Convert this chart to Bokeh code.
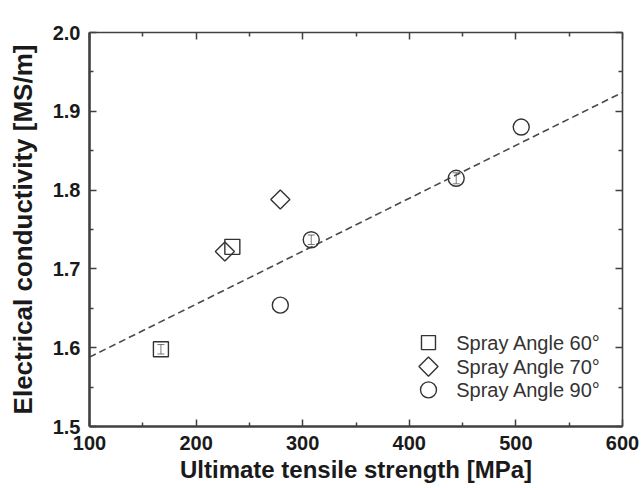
import numpy as np
from bokeh.plotting import figure
from bokeh.models import (Range1d, LinearAxis, FixedTicker, PrintfTickFormatter,
                          CustomJSTickFormatter, ColumnDataSource, Whisker, TeeHead)
from bokeh.core.properties import value
from bokeh.embed import file_html
from bokeh.resources import INLINE

# ---- data ----
sq_x = [167, 234]
sq_y = [1.598, 1.728]
sq_err = [0.006, 0.0]

dm_x = [227, 279]
dm_y = [1.722, 1.788]

ci_x = [279, 308, 444, 505]
ci_y = [1.654, 1.737, 1.815, 1.880]
ci_err = [0.0, 0.006, 0.007, 0.0]

fit_x = [100, 600]
fit_y = [1.588, 1.924]

x_ticks = [100, 200, 300, 400, 500, 600]
x_minor = [150, 250, 350, 450, 550]
y_ticks = [1.5, 1.6, 1.7, 1.8, 1.9, 2.0]
y_minor = [1.55, 1.65, 1.75, 1.85, 1.95]

labels = ["Spray Angle 60°", "Spray Angle 70°", "Spray Angle 90°"]

# ---- legend layout (fractions of the plot frame) ----
LEG_SYM_X = 0.636
LEG_TXT_X = 0.688
LEG_ROWS = [0.213, 0.152, 0.093]

FONT = "Liberation Sans"
INK = "#333333"
AX = "#404040"

p = figure(width=641, height=488, output_backend="svg", toolbar_location=None,
           x_range=Range1d(100, 600), y_range=Range1d(1.5, 2.0),
           x_axis_location=None, y_axis_location=None,
           min_border_left=89, min_border_right=19, min_border_top=32, min_border_bottom=62)
p.outline_line_color = None
p.grid.visible = False
p.background_fill_color = "white"
p.border_fill_color = "white"
p.extra_x_ranges = {"lx": Range1d(0, 1)}
p.extra_y_ranges = {"ly": Range1d(0, 1)}

def style_axis(ax, lw):
    ax.axis_line_color = AX
    ax.axis_line_width = lw
    ax.major_tick_line_color = AX
    ax.minor_tick_line_color = AX
    ax.major_tick_line_width = 1.5
    ax.minor_tick_line_width = 1.5
    ax.major_tick_in = 7
    ax.major_tick_out = 0
    ax.minor_tick_in = 4
    ax.minor_tick_out = 0
    ax.major_label_text_font = FONT
    ax.major_label_text_font_style = "bold"
    ax.major_label_text_font_size = "20px"
    ax.major_label_text_color = "#1a1a1a"
    ax.axis_label_text_font = FONT
    ax.axis_label_text_font_style = "bold"
    ax.axis_label_text_color = "#1a1a1a"

xt = FixedTicker(ticks=x_ticks, minor_ticks=x_minor)
yt = FixedTicker(ticks=y_ticks, minor_ticks=y_minor)
blank = CustomJSTickFormatter(code="return ''")

xb = LinearAxis(ticker=xt, formatter=PrintfTickFormatter(format="%d"),
                axis_label="Ultimate tensile strength [MPa]")
style_axis(xb, 2.6)
xb.axis_label_text_font_size = "24px"
xb.major_label_standoff = 9
xb.axis_label_standoff = 3
p.add_layout(xb, "below")

yl = LinearAxis(ticker=yt, formatter=PrintfTickFormatter(format="%.1f"),
                axis_label="Electrical conductivity [MS/m]")
style_axis(yl, 2.6)
yl.axis_label_text_font_size = "26px"
yl.major_label_standoff = 9
yl.axis_label_standoff = 12
p.add_layout(yl, "left")

xtop = LinearAxis(ticker=xt, formatter=blank)
style_axis(xtop, 1.6)
xtop.major_label_standoff = 0
p.add_layout(xtop, "above")

yr = LinearAxis(ticker=yt, formatter=blank)
style_axis(yr, 1.6)
yr.major_label_standoff = 0
p.add_layout(yr, "right")

# fit line
p.line(fit_x, fit_y, line_color="#4a4a4a", line_width=1.6, line_dash="7 4")

# small error bars inside markers
def add_err(xs, ys, es):
    keep = [i for i, e in enumerate(es) if e > 0]
    src = ColumnDataSource(dict(x=[xs[i] for i in keep],
                                lo=[ys[i] - es[i] for i in keep],
                                hi=[ys[i] + es[i] for i in keep]))
    w = Whisker(source=src, base="x", lower="lo", upper="hi", line_color="#555555", line_width=0.8,
                upper_head=TeeHead(size=7, line_color="#555555", line_width=0.8),
                lower_head=TeeHead(size=7, line_color="#555555", line_width=0.8))
    p.add_layout(w)

add_err(sq_x, sq_y, sq_err)
add_err(ci_x, ci_y, ci_err)

p.scatter(sq_x, sq_y, marker="square", size=15, fill_alpha=0, line_color=INK, line_width=1.4)
p.scatter(dm_x, dm_y, marker="square", angle=np.pi / 4, size=13.5, fill_alpha=0,
          line_color=INK, line_width=1.4)
p.scatter(ci_x, ci_y, marker="circle", size=16, fill_alpha=0, line_color=INK, line_width=1.4)

# legend (symbols + labels placed in frame-fraction coordinates)
leg_markers = ["square", "square", "circle"]
leg_angles = [0, np.pi / 4, 0]
leg_sizes = [14, 13.5, 16]
p.scatter(x=[LEG_SYM_X] * 3, y=LEG_ROWS, marker=leg_markers, angle=leg_angles, size=leg_sizes,
          fill_alpha=0, line_color=INK, line_width=1.4, x_range_name="lx", y_range_name="ly")
p.text(x=[LEG_TXT_X] * 3, y=LEG_ROWS, text=labels, text_font=value(FONT),
       text_font_size="20px", text_color="#333333", text_baseline="middle", text_align="left",
       x_range_name="lx", y_range_name="ly")

open("out.html", "w").write(file_html(p, INLINE))
